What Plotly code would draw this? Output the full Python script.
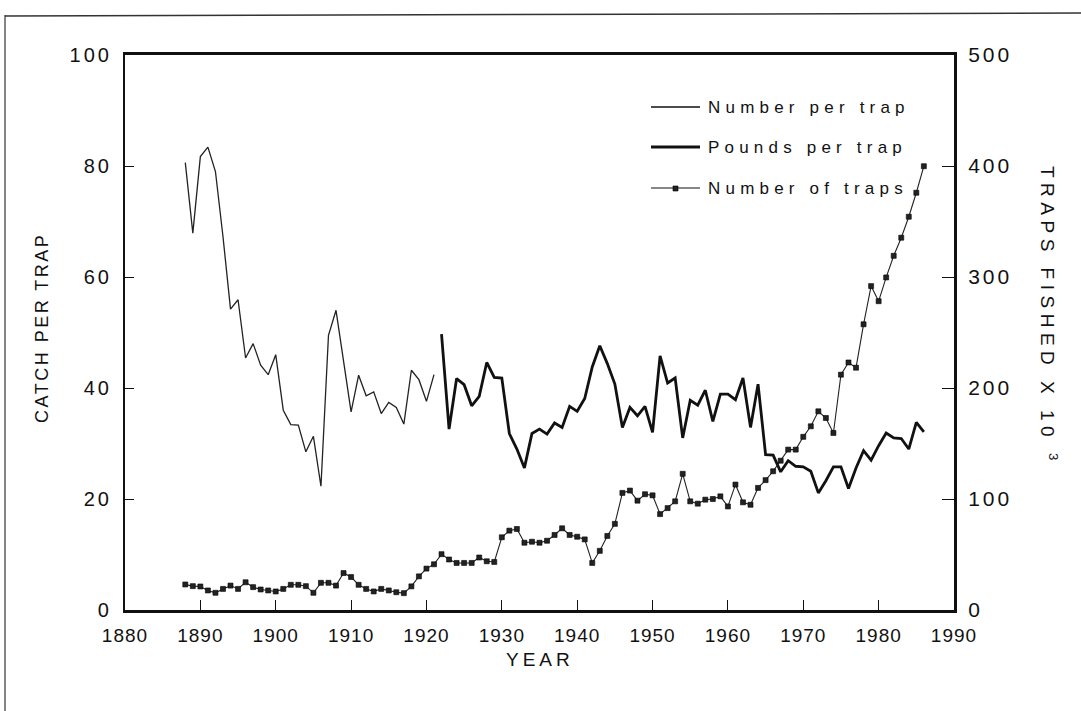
import plotly.graph_objects as go

# ---------------- data ----------------
years_num = list(range(1888, 1922))
number_per_trap = [80.6, 67.9, 81.7, 83.4, 79.0, 67.3, 54.2, 55.9, 45.4, 48.0,
                   44.1, 42.4, 46.0, 36.0, 33.4, 33.3, 28.5, 31.3, 22.3, 49.5,
                   54.0, 44.7, 35.7, 42.3, 38.6, 39.3, 35.4, 37.4, 36.5, 33.5,
                   43.2, 41.5, 37.6, 42.4]

years_lbs = list(range(1922, 1987))
pounds_per_trap = [49.7, 32.6, 41.7, 40.6, 36.8, 38.5, 44.6, 41.9, 41.8, 31.8,
                   29.0, 25.6, 31.8, 32.6, 31.7, 33.7, 32.9, 36.7, 35.8, 38.1,
                   43.8, 47.6, 44.4, 40.7, 32.9, 36.5, 35.0, 36.7, 32.0, 45.8,
                   40.9, 41.8, 31.0, 37.8, 36.9, 39.6, 34.0, 38.9, 38.9, 37.9,
                   41.8, 32.9, 40.7, 28.0, 27.9, 24.9, 26.9, 25.9, 25.8, 25.0,
                   21.1, 23.3, 25.8, 25.8, 21.9, 25.6, 28.7, 27.0, 29.6, 31.9,
                   31.0, 30.9, 29.0, 33.8, 32.1]

years_traps = list(range(1888, 1987))
traps_thousands = [23.0, 21.5, 21.2, 17.6, 15.5, 19.0, 22.0, 19.0, 25.0, 20.6,
                   18.5, 17.6, 16.7, 19.0, 22.7, 22.7, 21.5, 15.5, 24.5, 24.5,
                   22.0, 33.3, 29.7, 22.7, 19.0, 16.7, 19.0, 17.6, 16.0, 15.2,
                   21.3, 30.3, 37.3, 41.2, 50.3, 45.5, 42.4, 42.4, 42.4, 47.3,
                   43.9, 43.3, 65.5, 71.5, 73.0, 60.6, 61.5, 60.6, 62.4, 67.6,
                   73.6, 67.6, 66.0, 63.6, 42.4, 53.3, 66.7, 77.6, 105.5, 107.6,
                   98.5, 104.3, 103.3, 86.4, 91.8, 97.9, 122.7, 97.9, 95.8, 99.4,
                   100.0, 102.4, 93.3, 113.0, 97.0, 94.8, 110.0, 117.0, 125.0, 134.5,
                   144.5, 144.5, 156.0, 165.5, 179.0, 173.0, 159.5, 212.0, 223.0, 218.3,
                   257.4, 291.8, 278.2, 299.6, 319.1, 335.4, 354.3, 375.9, 399.8]

x_ticks = [1880, 1890, 1900, 1910, 1920, 1930, 1940, 1950, 1960, 1970, 1980, 1990]
left_ticks = [0, 20, 40, 60, 80, 100]
right_ticks = [0, 100, 200, 300, 400, 500]

legend_labels = ["Number per trap", "Pounds per trap", "Number of traps"]

# ---------------- layout geometry ----------------
W, H = 1081, 711
L, R, T, B = 125, 127, 55, 101
PW, PH = W - L - R, H - T - B
FONT = "Liberation Sans, Arial, Helvetica, sans-serif"
INK = "#111111"


def px(xp):
    return (xp - L) / PW


def py(yp):
    return (H - B - yp) / PH


def spaced(s, sp):
    return '<span style="letter-spacing:%spx">%s</span>' % (sp, s)


fig = go.Figure()

fig.add_trace(go.Scatter(
    x=years_num, y=number_per_trap, mode="lines",
    line=dict(color="#222222", width=1.3), name=legend_labels[0],
    showlegend=False))

fig.add_trace(go.Scatter(
    x=years_lbs, y=pounds_per_trap, mode="lines",
    line=dict(color=INK, width=2.8), name=legend_labels[1],
    showlegend=False))

fig.add_trace(go.Scatter(
    x=years_traps, y=traps_thousands, mode="lines+markers", yaxis="y2",
    line=dict(color="#222222", width=1.1),
    marker=dict(symbol="square", size=5, color="#222222",
                line=dict(color="#000000", width=0.6)),
    name=legend_labels[2], showlegend=False))

fig.update_layout(
    width=W, height=H,
    margin=dict(l=L, r=R, t=T, b=B, pad=0),
    paper_bgcolor="white", plot_bgcolor="white",
    showlegend=False,
    xaxis=dict(
        range=[1880, 1990], tickvals=x_ticks,
        ticktext=[spaced(str(v), 1) for v in x_ticks],
        ticks="inside", ticklen=10, tickwidth=1.2, tickcolor=INK,
        showline=True, linewidth=3, linecolor=INK, mirror=True,
        showgrid=False, zeroline=False,
        tickfont=dict(family=FONT, size=19, color=INK),
        ticklabelstandoff=6,
    ),
    yaxis=dict(
        range=[0, 100], tickvals=left_ticks,
        ticktext=[spaced(str(v), 3) for v in left_ticks],
        ticks="inside", ticklen=9, tickwidth=1.2, tickcolor=INK,
        showline=True, linewidth=2.2, linecolor=INK,
        showgrid=False, zeroline=False,
        tickfont=dict(family=FONT, size=20, color=INK),
        ticklabelstandoff=7,
    ),
    yaxis2=dict(
        range=[0, 500], tickvals=right_ticks,
        ticktext=[spaced(str(v), 3) for v in right_ticks],
        overlaying="y", side="right",
        ticks="inside", ticklen=12, tickwidth=1.2, tickcolor=INK,
        showline=True, linewidth=3, linecolor=INK,
        showgrid=False, zeroline=False,
        tickfont=dict(family=FONT, size=21, color=INK),
        ticklabelstandoff=7,
    ),
)

# axis titles
fig.add_annotation(
    text=spaced("CATCH PER TRAP", 2.5),
    xref="paper", yref="paper", x=px(42), y=py(328), textangle=-90,
    xanchor="center", yanchor="middle",
    showarrow=False, font=dict(family=FONT, size=18, color=INK))
fig.add_annotation(
    text=spaced("TRAPS FISHED X 10 <sup>3</sup>", 5.5),
    xref="paper", yref="paper", x=px(1049), y=py(316), textangle=90,
    xanchor="center", yanchor="middle",
    showarrow=False, font=dict(family=FONT, size=19, color=INK))
fig.add_annotation(
    text=spaced("YEAR", 4),
    xref="paper", yref="paper", x=px(540), y=py(659),
    xanchor="center", yanchor="middle",
    showarrow=False, font=dict(family=FONT, size=19, color=INK))

# manual legend
leg_rows = [107, 147, 188]
leg_widths = [1.3, 2.8, 1.1]
for lab, yy, lw in zip(legend_labels, leg_rows, leg_widths):
    fig.add_shape(type="line", xref="paper", yref="paper",
                  x0=px(651), x1=px(700), y0=py(yy), y1=py(yy),
                  line=dict(color=INK, width=lw))
    fig.add_annotation(
        text=spaced(lab, 5.2),
        xref="paper", yref="paper", x=px(706), y=py(yy),
        xanchor="left", yanchor="middle", showarrow=False,
        font=dict(family=FONT, size=17, color=INK))
fig.add_shape(type="rect", xref="paper", yref="paper",
              x0=px(673), x1=px(678), y0=py(186), y1=py(191),
              fillcolor="#222222", line=dict(color="#000000", width=0.6))

# outer scan frame
fig.add_shape(type="line", xref="paper", yref="paper",
              x0=px(5), x1=px(5), y0=py(15), y1=py(711),
              line=dict(color="#333333", width=1.2))
fig.add_shape(type="line", xref="paper", yref="paper",
              x0=px(5), x1=px(1081), y0=py(16), y1=py(13),
              line=dict(color="#333333", width=1.5))

fig.write_html("out.html", config={"displayModeBar": False},
               post_script="document.body.style.margin='0';")
